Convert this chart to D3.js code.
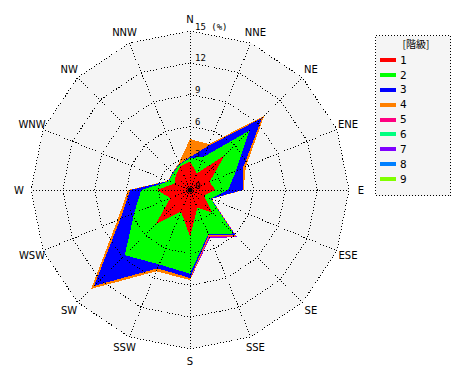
<!DOCTYPE html>
<html><head><meta charset="utf-8">
<script src="https://cdn.jsdelivr.net/npm/d3@7"></script>
<style>body{margin:0;background:#fff}svg{display:block}</style>
</head><body><svg id="c" width="470" height="380"></svg>
<script>
const directions = ["N","NNE","NE","ENE","E","ESE","SE","SSE","S","SSW","SW","WSW","W","WNW","NW","NNW"];
const levels = ["1","2","3","4","5","6","7","8","9"];
const levelColors = ["#ff0000","#00ff00","#0000ff","#ff8000","#ff0080","#00ff80","#8000ff","#0080ff","#80ff00"];
// frequency (%) per level, per direction
const level1 = [2.7,1.7,4.6,2.0,2.4,1.4,3.0,1.8,4.4,2.2,4.6,2.0,3.1,1.6,1.9,2.4];
const level2 = [0.3,1.7,3.3,2.7,1.2,0.7,2.8,2.7,3.5,5.4,4.1,3.7,1.5,0.55,0.35,0.2];
const level3 = [0.1,1.1,1.7,0.7,1.4,0.05,0.2,0.1,0.4,0.4,4.1,1.4,1.05,0.05,0.05,0.05];
const level4 = [1.7,0.2,0.3,0.3,0.05,0.05,0.1,0.1,0.2,0.3,0.4,0.3,0.2,0.05,0.05,0.1];
const level5 = [0,0,0,0,0,0,0.1,0.1,0,0,0,0,0,0,0,0];
const level6 = [0,0,0,0,0,0,0,0,0,0,0,0,0,0,0,0];
const level7 = [0,0,0,0,0,0,0.1,0.1,0,0,0,0,0,0,0,0];
const level8 = [0,0,0,0,0,0,0,0,0,0,0,0,0,0,0,0];
const level9 = [0,0,0,0,0,0,0,0,0,0,0,0,0,0,0,0];
const ringTicks = [0,3,6,9,12,15];
const ringLabels = ["0","3","6","9","12","15 (%)"];
const legendTitle = "[階級]";

const levelData = [level1,level2,level3,level4,level5,level6,level7,level8,level9];
const table = directions.map((d,i)=>{const o={dir:d}; levels.forEach((l,j)=>o[l]=levelData[j][i]); return o;});
const stacked = d3.stack().keys(levels)(table);

const svg = d3.select("#c");
const cx = 190, cy = 190;
const r = d3.scaleLinear().domain([0,15]).range([0,159]);
const ang = d3.scalePoint().domain(directions).range([0, 2*Math.PI*15/16]);
const g = svg.append("g").attr("transform",`translate(${cx},${cy})`);

const ringLine = v => d3.lineRadial().angle(d=>ang(d)).radius(()=>r(v)).curve(d3.curveLinearClosed)(directions);

// background
g.append("path").attr("d", ringLine(15)).attr("fill","#f5f5f5");

// stacked areas, outermost first
const area = d3.lineRadial().angle(d=>ang(d.data.dir)).radius(d=>r(d[1])).curve(d3.curveLinearClosed);
g.selectAll("path.lvl").data(stacked.slice().reverse()).join("path")
  .attr("class","lvl").attr("d", s=>area(s))
  .attr("fill", s=>levelColors[levels.indexOf(s.key)])
  .attr("shape-rendering","crispEdges");

// grid rings
g.selectAll("path.ring").data(ringTicks.filter(t=>t>0)).join("path")
  .attr("class","ring").attr("d", t=>ringLine(t))
  .attr("fill","none").attr("stroke","#000").attr("stroke-width",1)
  .attr("stroke-dasharray","1,2").attr("shape-rendering","crispEdges");

// spokes
g.selectAll("line.spoke").data(directions).join("line")
  .attr("class","spoke")
  .attr("x1",0).attr("y1",0)
  .attr("x2", d=>r(15)*Math.sin(ang(d))).attr("y2", d=>-r(15)*Math.cos(ang(d)))
  .attr("stroke","#000").attr("stroke-width",1).attr("stroke-dasharray","1,2")
  .attr("shape-rendering","crispEdges");

// center dot
g.append("circle").attr("r",2.5).attr("fill","#000");

// ring labels
g.selectAll("text.rl").data(ringTicks).join("text")
  .attr("class","rl")
  .attr("x",5).attr("y", t=>-r(t)-1.5)
  .attr("font-family","DejaVu Sans Mono, monospace").attr("font-size",9)
  .attr("fill","#000")
  .text((t,i)=>ringLabels[i]);

// direction labels
g.selectAll("text.dl").data(directions).join("text")
  .attr("class","dl")
  .attr("x", d=>171*Math.sin(ang(d))).attr("y", d=>-171*Math.cos(ang(d)))
  .attr("text-anchor","middle").attr("dominant-baseline","central")
  .attr("font-family","DejaVu Sans, sans-serif").attr("font-size",10)
  .attr("fill","#000")
  .text(d=>d);

// legend
const lg = svg.append("g");
lg.append("rect").attr("x",375.5).attr("y",35.5).attr("width",75).attr("height",160)
  .attr("fill","#f5f5f5").attr("stroke","#000").attr("stroke-dasharray","1,2")
  .attr("shape-rendering","crispEdges");
lg.append("text").attr("x",416).attr("y",48).attr("text-anchor","middle")
  .attr("font-family","Noto Sans CJK JP, sans-serif").attr("font-size",10).text(legendTitle);
const ly = d3.scalePoint().domain(levels).range([60.3,179]);
const items = lg.selectAll("g.item").data(levels).join("g").attr("class","item")
  .attr("transform", l=>`translate(0,${ly(l)})`);
items.append("rect").attr("x",380).attr("y",-2).attr("width",16).attr("height",4)
  .attr("fill",(l,i)=>levelColors[i]).attr("shape-rendering","crispEdges");
items.append("text").attr("x",400).attr("y",0).attr("dominant-baseline","central")
  .attr("font-family","DejaVu Sans Mono, monospace").attr("font-size",11).text(l=>l);
</script></body></html>
